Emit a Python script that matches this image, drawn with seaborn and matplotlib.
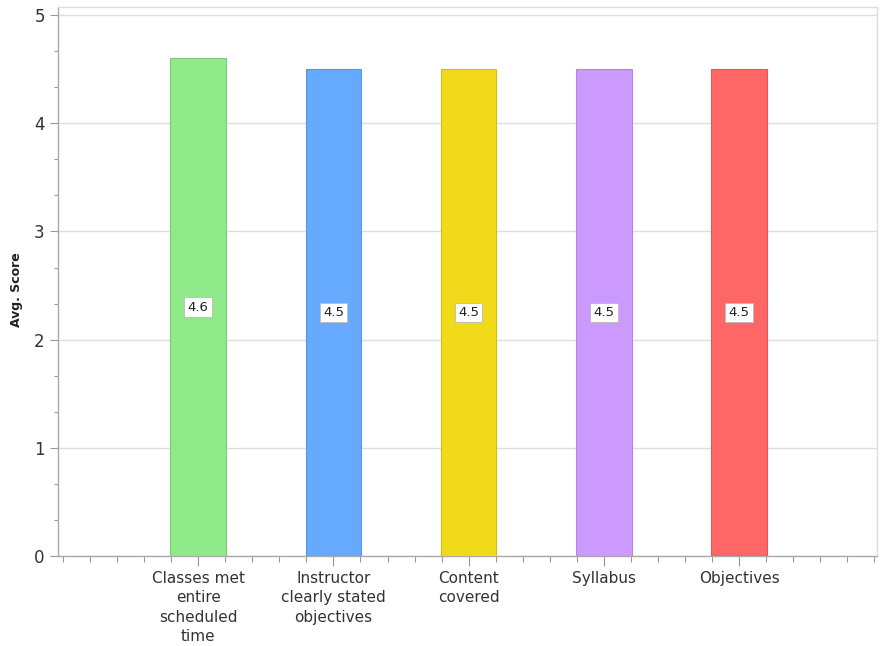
import matplotlib
matplotlib.use("Agg")
import matplotlib.pyplot as plt
import seaborn as sns
import pandas as pd
from matplotlib.ticker import MultipleLocator, FixedLocator

categories = [
    "Classes met\nentire\nscheduled\ntime",
    "Instructor\nclearly stated\nobjectives",
    "Content\ncovered",
    "Syllabus",
    "Objectives",
]
scores = [4.6, 4.5, 4.5, 4.5, 4.5]
colors = ["#90EA8A", "#66AAFF", "#F2DA1A", "#CC99FF", "#FF6666"]
edge_colors = ["#7CCB76", "#5A96E0", "#D4BE16", "#B386E0", "#E05A5A"]

sns.set_theme(style="white")
plt.rcParams["font.family"] = ["DejaVu Sans"]

df = pd.DataFrame({"category": categories, "score": scores})

fig = plt.figure(figsize=(8.81, 6.46), dpi=100)
ax = fig.add_axes([58 / 881, 90 / 646, (877 - 58) / 881, (556 - 7) / 646])

sns.barplot(data=df, x="category", y="score", hue="category",
            palette=colors, saturation=1, width=0.41, legend=False, ax=ax,
            zorder=3)

for patch, ec in zip(ax.patches, edge_colors):
    patch.set_edgecolor(ec)
    patch.set_linewidth(0.8)

# value labels centred in each bar
for i, v in enumerate(scores):
    ax.text(i, v / 2, f"{v}", ha="center", va="center", fontsize=9.5,
            color="#222222", zorder=5,
            bbox=dict(boxstyle="square,pad=0.25", facecolor="white",
                      edgecolor="#BBBBBB", linewidth=0.6))

ax.set_xlim(-1.037, 5.02)
ax.set_ylim(0, 5.075)

ax.yaxis.set_major_locator(FixedLocator([0, 1, 2, 3, 4, 5]))
ax.yaxis.set_minor_locator(MultipleLocator(1 / 3))
ax.xaxis.set_minor_locator(MultipleLocator(0.2))

ax.grid(axis="y", which="major", color="#DDDDDD", linewidth=1, zorder=0)

ax.tick_params(axis="y", which="major", length=6, width=0.8, color="#999999",
               labelsize=12, labelcolor="#333333", direction="out", left=True)
ax.tick_params(axis="y", which="minor", length=3, width=0.8, color="#999999",
               direction="out", left=True)
ax.tick_params(axis="x", which="major", length=7, width=0.8, color="#999999",
               labelsize=11, labelcolor="#333333", direction="out", bottom=True,
               pad=4)
ax.tick_params(axis="x", which="minor", length=4, width=0.8, color="#999999",
               direction="out", bottom=True)

for lbl in ax.get_xticklabels():
    lbl.set_linespacing(1.35)
    lbl.set_va("top")

ax.set_xlabel("")
ax.set_ylabel("Avg. Score", fontsize=9, fontweight="bold", color="#222222")
ax.yaxis.set_label_coords(-35 / 819, 0.485)

ax.spines["left"].set_color("#AAAAAA")
ax.spines["bottom"].set_color("#AAAAAA")
ax.spines["top"].set_color("#DDDDDD")
ax.spines["right"].set_color("#DDDDDD")
for s in ax.spines.values():
    s.set_linewidth(1)

fig.savefig("out.png", dpi=100)
